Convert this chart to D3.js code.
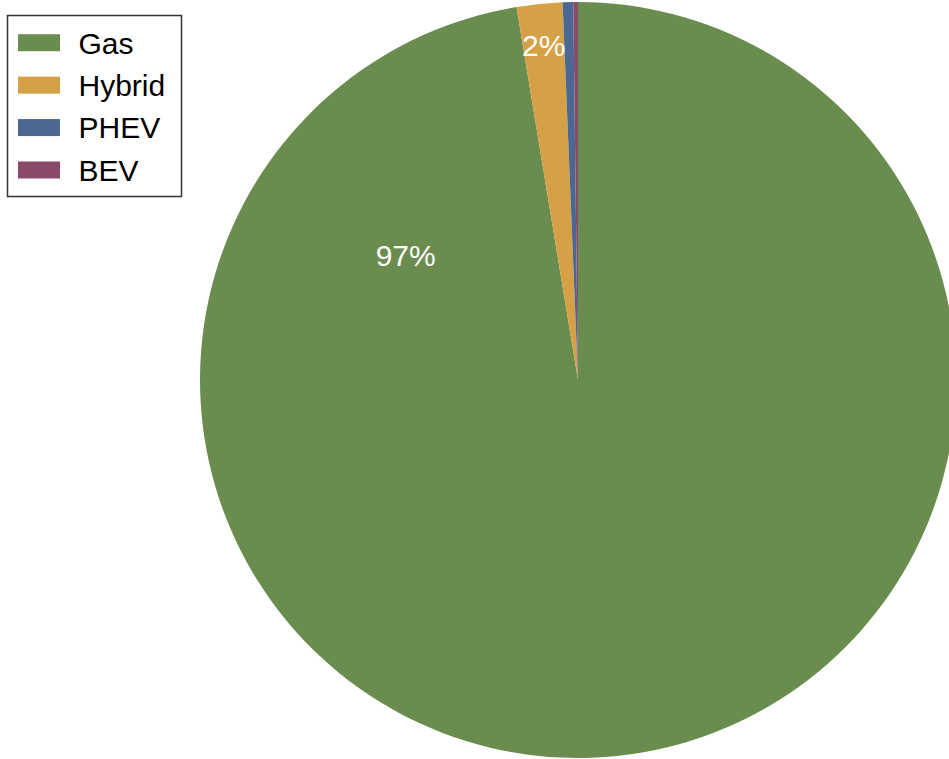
<!DOCTYPE html>
<html><head><meta charset="utf-8">
<script src="https://cdn.jsdelivr.net/npm/d3@7"></script>
<style>body{margin:0;background:#fff}svg{display:block}</style>
</head><body>
<script>
const categories = ["Gas", "Hybrid", "PHEV", "BEV"];
const values = [97.4, 1.95, 0.45, 0.2];
const colors = ["#6a8c4e", "#d6a046", "#4b6893", "#8b4a6a"];
const labels = ["97%", "2%", "", ""];

const W = 949, H = 759;
const cx = 578, cy = 380, R = 378;
const svg = d3.select("body").append("svg").attr("width", W).attr("height", H);
const g = svg.append("g").attr("transform", `translate(${cx},${cy})`);

const pie = d3.pie().sort(null).value(d => d);
const arcs = pie(values);
const arc = d3.arc().innerRadius(0).outerRadius(R);

g.selectAll("path").data(arcs).enter().append("path")
  .attr("d", arc).attr("fill", (d, i) => colors[i]);

// label placement
const labelPos = [
  {angle: -54 * Math.PI / 180, r: 213},
  null, null, null
];
g.selectAll("text.lab").data(arcs).enter().append("text")
  .attr("class", "lab")
  .attr("transform", (d, i) => {
    let p;
    if (labelPos[i]) {
      p = [Math.sin(labelPos[i].angle) * labelPos[i].r, -Math.cos(labelPos[i].angle) * labelPos[i].r];
    } else {
      p = d3.arc().innerRadius(R * 0.89).outerRadius(R * 0.89).centroid(d);
    }
    return `translate(${p[0]},${p[1]})`;
  })
  .attr("text-anchor", "middle").attr("dy", "0.36em")
  .attr("font-family", "Liberation Sans, Arial, sans-serif")
  .attr("font-size", 30).attr("fill", "#ffffff")
  .text((d, i) => labels[i]);

// legend
const lg = svg.append("g");
lg.append("rect").attr("x", 7.5).attr("y", 15.5).attr("width", 174).attr("height", 181)
  .attr("fill", "#fff").attr("stroke", "#333").attr("stroke-width", 1.5);
const ly = d3.scalePoint().domain(categories).range([42.7, 170]);
categories.forEach((c, i) => {
  lg.append("rect").attr("x", 18).attr("y", ly(c) - 8.5).attr("width", 42).attr("height", 17)
    .attr("fill", colors[i]);
  lg.append("text").attr("x", 78.5).attr("y", ly(c)).attr("dy", "0.36em")
    .attr("font-family", "Liberation Sans, Arial, sans-serif")
    .attr("font-size", 30).attr("fill", "#000").text(c);
});
</script>
</body></html>
